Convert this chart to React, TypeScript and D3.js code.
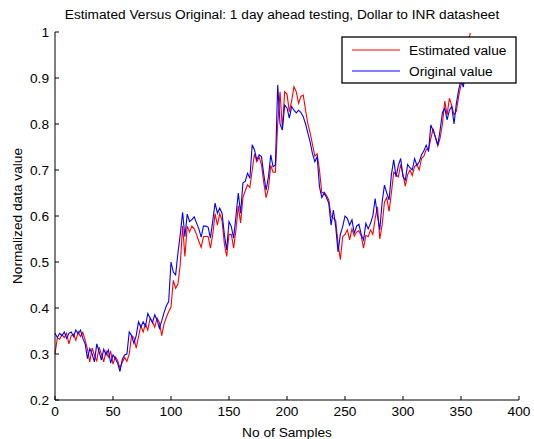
import React from "react";
import * as d3 from "d3";

const title = "Estimated Versus Original: 1 day ahead testing, Dollar to INR datasheet";
const xLabel = "No of Samples";
const yLabel = "Normalized data value";
const xTicks = [0, 50, 100, 150, 200, 250, 300, 350, 400];
const yTicks = [0.2, 0.3, 0.4, 0.5, 0.6, 0.7, 0.8, 0.9, 1];
const seriesNames = ["Estimated value", "Original value"];
const seriesColors = ["#ff0000", "#0000ff"];

// sample index step 2: 0,2,4,...,358
const sampleStep = 2;

const original = [
  0.345, 0.336, 0.345, 0.340, 0.348, 0.334, 0.345, 0.348, 0.338, 0.352,
  0.344, 0.352, 0.334, 0.322, 0.290, 0.312, 0.300, 0.283, 0.322, 0.305,
  0.287, 0.310, 0.298, 0.309, 0.280, 0.298, 0.290, 0.280, 0.262, 0.288,
  0.298, 0.300, 0.348, 0.340, 0.323, 0.340, 0.370, 0.358, 0.370, 0.360,
  0.388, 0.378, 0.368, 0.385, 0.374, 0.356, 0.372, 0.390, 0.405, 0.414,
  0.500, 0.478, 0.472, 0.520, 0.560, 0.608, 0.555, 0.604, 0.588, 0.592,
  0.598, 0.585, 0.572, 0.554, 0.578, 0.578, 0.576, 0.552, 0.590, 0.628,
  0.606, 0.617, 0.606, 0.560, 0.526, 0.588, 0.577, 0.552, 0.600, 0.650,
  0.606, 0.672, 0.675, 0.693, 0.682, 0.755, 0.743, 0.722, 0.733, 0.729,
  0.690, 0.656, 0.685, 0.733, 0.707, 0.711, 0.885, 0.800, 0.787, 0.841,
  0.835, 0.813, 0.838, 0.830, 0.824, 0.830, 0.825, 0.816, 0.800, 0.780,
  0.760, 0.735, 0.718, 0.729, 0.664, 0.640, 0.650, 0.640, 0.628, 0.580,
  0.613, 0.577, 0.522, 0.560, 0.577, 0.600, 0.595, 0.580, 0.592, 0.562,
  0.578, 0.582, 0.560, 0.548, 0.584, 0.572, 0.584, 0.600, 0.638, 0.600,
  0.570, 0.630, 0.667, 0.650, 0.635, 0.690, 0.722, 0.685, 0.710, 0.725,
  0.685, 0.678, 0.712, 0.705, 0.700, 0.725, 0.710, 0.718, 0.733, 0.742,
  0.754, 0.740, 0.798, 0.785, 0.772, 0.754, 0.787, 0.825, 0.834, 0.809,
  0.830, 0.838, 0.800, 0.845, 0.874, 0.896, 0.880, 0.920, 0.950, 0.975,
];

const estimated = [
  0.300, 0.335, 0.332, 0.342, 0.336, 0.345, 0.322, 0.340, 0.343, 0.330,
  0.348, 0.338, 0.347, 0.330, 0.310, 0.283, 0.313, 0.297, 0.285, 0.315,
  0.300, 0.283, 0.306, 0.293, 0.305, 0.278, 0.294, 0.286, 0.270, 0.282,
  0.292, 0.284, 0.300, 0.340, 0.336, 0.313, 0.338, 0.362, 0.348, 0.365,
  0.352, 0.378, 0.370, 0.358, 0.378, 0.368, 0.340, 0.365, 0.380, 0.392,
  0.402, 0.460, 0.443, 0.452, 0.495, 0.578, 0.512, 0.578, 0.565, 0.578,
  0.572, 0.560, 0.545, 0.532, 0.555, 0.556, 0.555, 0.530, 0.560, 0.605,
  0.580, 0.605, 0.590, 0.540, 0.512, 0.560, 0.560, 0.530, 0.570, 0.622,
  0.585, 0.640, 0.655, 0.668, 0.662, 0.700, 0.735, 0.718, 0.728, 0.712,
  0.672, 0.640, 0.660, 0.710, 0.695, 0.695, 0.800, 0.870, 0.790, 0.870,
  0.865, 0.827, 0.850, 0.881, 0.870, 0.845, 0.860, 0.863, 0.830, 0.800,
  0.780, 0.755, 0.730, 0.735, 0.700, 0.650, 0.652, 0.645, 0.635, 0.600,
  0.595, 0.590, 0.540, 0.505, 0.555, 0.560, 0.570, 0.548, 0.572, 0.556,
  0.565, 0.568, 0.556, 0.530, 0.558, 0.555, 0.570, 0.560, 0.595, 0.620,
  0.550, 0.580, 0.630, 0.640, 0.610, 0.650, 0.695, 0.690, 0.685, 0.712,
  0.690, 0.665, 0.690, 0.700, 0.688, 0.708, 0.712, 0.700, 0.725, 0.730,
  0.745, 0.745, 0.768, 0.790, 0.770, 0.752, 0.770, 0.800, 0.850, 0.820,
  0.856, 0.840, 0.820, 0.828, 0.860, 0.885, 0.895, 0.940, 0.975, 0.998,
];

const W = 534;
const H = 439;
const left = 55;
const right = 519;
const top = 32;
const bottom = 400;
const font = "'Liberation Sans', Arial, sans-serif";
const fs = 13.7;

export default function App() {
  const x = d3.scaleLinear().domain([0, 400]).range([left, right]);
  const y = d3.scaleLinear().domain([0.2, 1]).range([bottom, top]);
  const line = d3
    .line<number>()
    .x((_, i) => x(i * sampleStep))
    .y((d) => y(d));
  const series = [estimated, original];
  const tickLen = 4;
  const lg = { x0: 342, y0: 37, x1: 516, y1: 83 };
  return (
    <svg
      width={W}
      height={H}
      style={{ position: "absolute", left: 0, top: 0, background: "#fff" }}
      fontFamily={font}
    >
      <rect x={0} y={0} width={W} height={H} fill="#fff" />
      <text x={282} y={19} fontSize={fs} textAnchor="middle" fill="#000">
        {title}
      </text>
      {series.map((s, i) => (
        <path
          key={i}
          d={line(s) || ""}
          fill="none"
          stroke={seriesColors[i]}
          strokeWidth={1.1}
        />
      ))}
      {/* axes */}
      <line x1={left} y1={top} x2={left} y2={bottom} stroke="#000" strokeWidth={1} />
      <line x1={left} y1={bottom} x2={right} y2={bottom} stroke="#000" strokeWidth={1} />
      {xTicks.map((t) => (
        <g key={"x" + t}>
          <line x1={x(t)} y1={bottom} x2={x(t)} y2={bottom - tickLen} stroke="#000" />
          <text x={x(t)} y={bottom + 16} fontSize={fs} textAnchor="middle" fill="#000">
            {t}
          </text>
        </g>
      ))}
      {yTicks.map((t) => (
        <g key={"y" + t}>
          <line x1={left} y1={y(t)} x2={left + tickLen} y2={y(t)} stroke="#000" />
          <text x={49} y={y(t) + 5} fontSize={fs} textAnchor="end" fill="#000">
            {d3.format("")(Number(t.toFixed(1)))}
          </text>
        </g>
      ))}
      <text x={287} y={437} fontSize={fs} textAnchor="middle" fill="#000">
        {xLabel}
      </text>
      <text
        transform={`translate(22,${(top + bottom) / 2}) rotate(-90)`}
        fontSize={fs}
        textAnchor="middle"
        fill="#000"
      >
        {yLabel}
      </text>
      {/* legend */}
      <rect
        x={lg.x0}
        y={lg.y0}
        width={lg.x1 - lg.x0}
        height={lg.y1 - lg.y0}
        fill="#fff"
        stroke="#000"
        strokeWidth={1.3}
      />
      {seriesNames.map((n, i) => (
        <g key={n}>
          <line
            x1={352}
            x2={400}
            y1={50 + i * 21}
            y2={50 + i * 21}
            stroke={seriesColors[i]}
            strokeWidth={1}
          />
          <text x={409} y={55 + i * 21} fontSize={fs} fill="#000">
            {n}
          </text>
        </g>
      ))}
    </svg>
  );
}
